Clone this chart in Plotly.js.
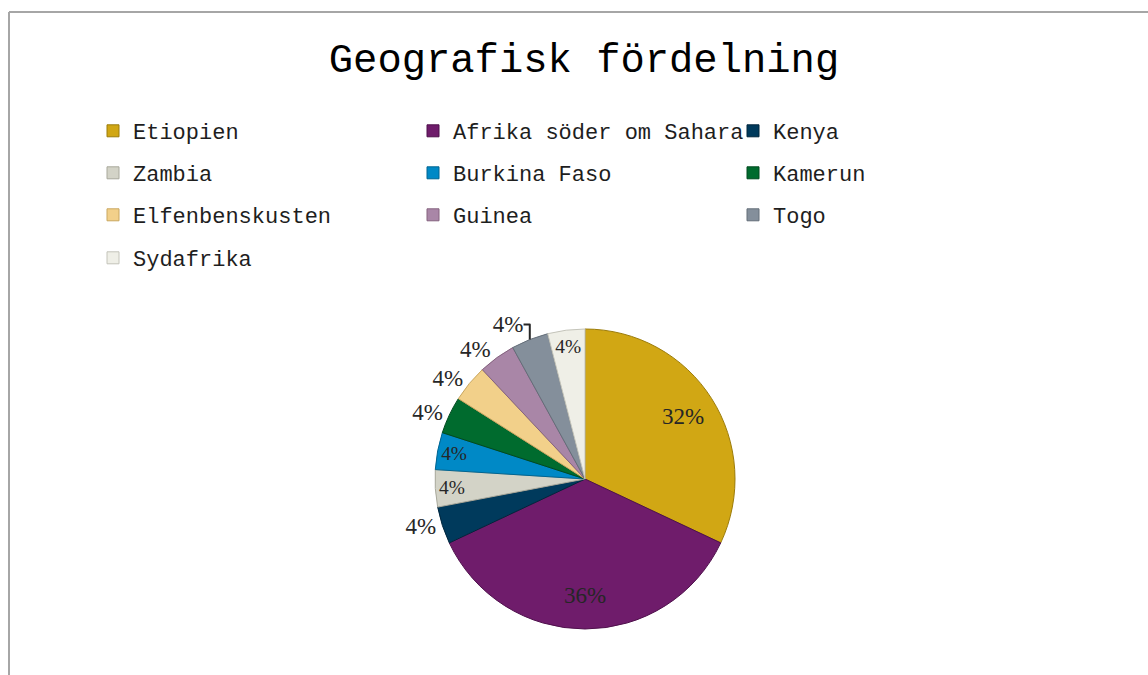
<!DOCTYPE html>
<html>
<head>
<meta charset="utf-8">
<script src="https://cdn.plot.ly/plotly-3.0.1.min.js"></script>
<style>html,body{margin:0;padding:0;background:#fff;}#chart{width:1148px;height:675px;}</style>
</head>
<body>
<div id="chart"></div>
<script>
// Data
const categories = ["Etiopien", "Afrika söder om Sahara", "Kenya", "Zambia", "Burkina Faso",
                    "Kamerun", "Elfenbenskusten", "Guinea", "Togo", "Sydafrika"];
const values = [8, 9, 1, 1, 1, 1, 1, 1, 1, 1];
const sliceColors = ["#D1A714", "#6F1C6B", "#003A5C", "#D3D3C7", "#0089C6",
                     "#006B2E", "#F2D08A", "#A986A7", "#848F9B", "#EFEFE7"];
const sliceEdges = ["#9C7C0A", "#4F104C", "#00263D", "#A9A99C", "#006592",
                    "#004A1F", "#C9A760", "#85637F", "#646E79", "#C4C4BA"];
const labelPositions = ["inside", "inside", "outside", "inside", "inside",
                        "outside", "outside", "outside", "outside", "inside"];
// large slices get their label drawn further out (in a ring overlay)
const ringLabel = [true, true, false, false, false, false, false, false, false, false];
const legendRows = ["legend", "legend", "legend", "legend2", "legend2", "legend2",
                    "legend3", "legend3", "legend3", "legend4"];

const W = 1148, H = 675;
const pieDomain = {x: [435 / W, 735 / W], y: [46 / H, 346 / H]};
const labelFont = {family: "Liberation Serif", size: 23, color: "#262626"};

const traces = [{
  type: "pie",
  labels: categories,
  values: values,
  sort: false,
  direction: "clockwise",
  rotation: 0,
  showlegend: false,
  texttemplate: ringLabel.map(r => r ? "" : "%{percent}"),
  textposition: labelPositions,
  insidetextorientation: "horizontal",
  textfont: labelFont,
  marker: {colors: sliceColors, line: {color: sliceEdges, width: 1}},
  domain: pieDomain,
  hoverinfo: "label+percent"
}, {
  type: "pie",
  labels: categories,
  values: values,
  sort: false,
  direction: "clockwise",
  rotation: 0,
  hole: 0.55,
  showlegend: false,
  texttemplate: ringLabel.map(r => r ? "%{percent}" : ""),
  textposition: "inside",
  insidetextorientation: "horizontal",
  textfont: labelFont,
  marker: {colors: categories.map(() => "rgba(0,0,0,0)"), line: {width: 0}},
  domain: pieDomain,
  hoverinfo: "skip"
}];
categories.forEach((c, i) => {
  traces.push({
    type: "bar", x: [null], y: [null], name: c,
    legend: legendRows[i], showlegend: true,
    marker: {color: sliceColors[i], line: {color: sliceEdges[i], width: 1}},
    hoverinfo: "skip"
  });
});

function legendAt(rowY) {
  return {
    orientation: "h", x: 93 / W, xanchor: "left", y: 1 - rowY / H, yanchor: "middle",
    entrywidth: 275, entrywidthmode: "pixels", bgcolor: "rgba(0,0,0,0)", borderwidth: 0,
    font: {family: "Liberation Mono", size: 22, color: "#1e1e1e"}, itemclick: false
  };
}

const layout = {
  width: W, height: H,
  margin: {l: 0, r: 0, t: 0, b: 0},
  paper_bgcolor: "#ffffff", plot_bgcolor: "#ffffff",
  title: {text: "Geografisk fördelning", x: 584 / W, xanchor: "center", y: 1 - 58 / H, yanchor: "middle",
          font: {family: "Liberation Mono", size: 40.5, color: "#000000"}},
  xaxis: {visible: false, fixedrange: true},
  yaxis: {visible: false, fixedrange: true},
  showlegend: true,
  legend: legendAt(131),
  legend2: legendAt(173),
  legend3: legendAt(215),
  legend4: legendAt(258),
  shapes: [
    {type: "line", xref: "paper", yref: "paper", x0: 9 / W, x1: 1, y0: 1 - 12 / H, y1: 1 - 12 / H,
     line: {color: "#a6a6a6", width: 2}},
    {type: "line", xref: "paper", yref: "paper", x0: 9 / W, x1: 9 / W, y0: 1 - 12 / H, y1: 0,
     line: {color: "#a6a6a6", width: 2}}
  ]
};

Plotly.newPlot("chart", traces, layout, {displayModeBar: false, staticPlot: true});
</script>
</body>
</html>
